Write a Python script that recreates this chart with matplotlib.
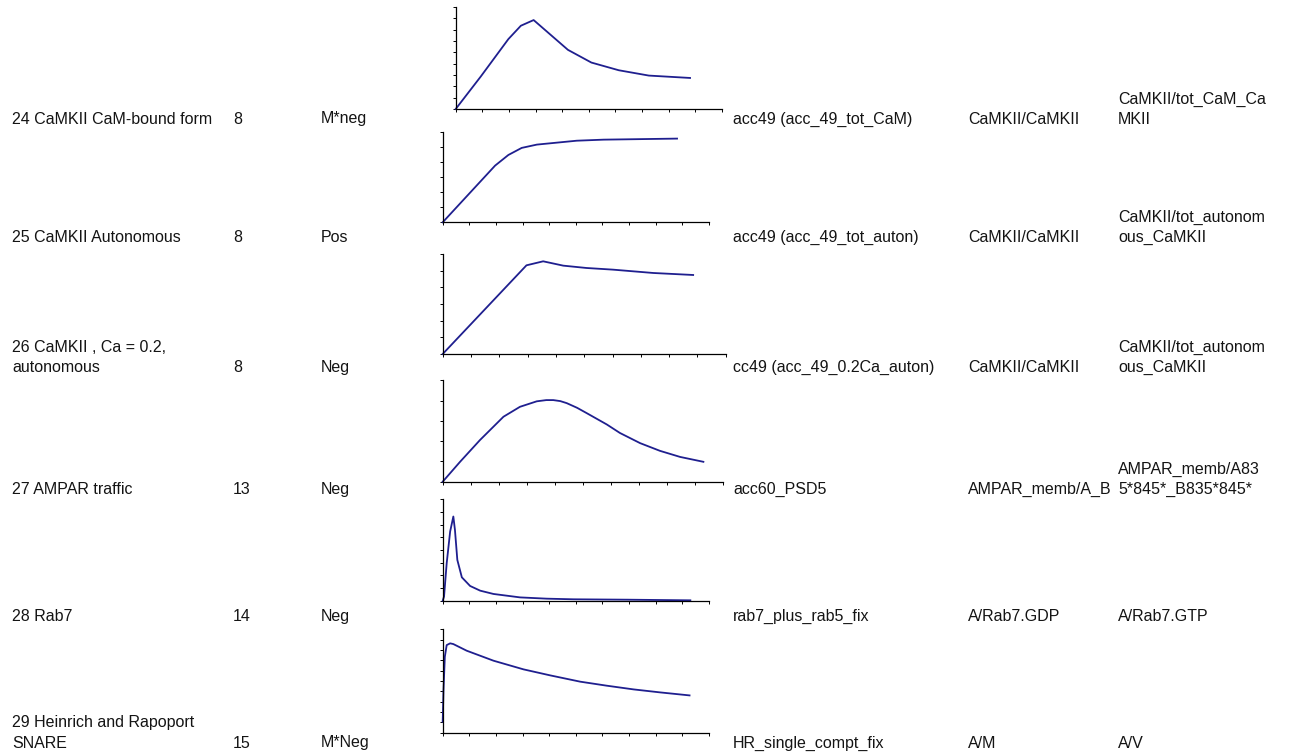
import matplotlib
matplotlib.use('Agg')
import matplotlib.pyplot as plt

W, H = 1293, 754

# table columns
names = ["24 CaMKII CaM-bound form", "25 CaMKII Autonomous", "26 CaMKII , Ca = 0.2,\nautonomous",
         "27 AMPAR traffic", "28 Rab7", "29 Heinrich and Rapoport\nSNARE"]
numbers = ["8", "8", "8", "13", "14", "15"]
signs = ["M*neg", "Pos", "Neg", "Neg", "Neg", "M*Neg"]
models = ["acc49 (acc_49_tot_CaM)", "acc49 (acc_49_tot_auton)", "cc49 (acc_49_0.2Ca_auton)",
          "acc60_PSD5", "rab7_plus_rab5_fix", "HR_single_compt_fix"]
inputs = ["CaMKII/CaMKII", "CaMKII/CaMKII", "CaMKII/CaMKII", "AMPAR_memb/A_B", "A/Rab7.GDP", "A/M"]
outputs = ["CaMKII/tot_CaM_Ca\nMKII", "CaMKII/tot_autonom\nous_CaMKII", "CaMKII/tot_autonom\nous_CaMKII",
           "AMPAR_memb/A83\n5*845*_B835*845*", "A/Rab7.GTP", "A/V"]

# time courses (in tick units of each small plot)
x24 = [0, 0.94, 1.98, 2.45, 2.93, 4.22, 5.10, 6.13, 7.26, 8.81]
y24 = [0, 2.86, 6.17, 7.35, 7.85, 5.22, 4.10, 3.42, 2.95, 2.74]
x25 = [0, 1.97, 2.47, 2.97, 3.54, 5.04, 6.05, 8.81]
y25 = [0, 3.78, 4.49, 4.96, 5.18, 5.44, 5.51, 5.58]
x26 = [0, 2.96, 3.55, 4.26, 5.08, 6.02, 7.44, 8.85]
y26 = [0, 5.32, 5.56, 5.30, 5.16, 5.06, 4.86, 4.74]
x27 = [0, 0.62, 1.33, 2.17, 2.76, 3.36, 3.70, 3.95, 4.20, 4.43, 4.80, 5.14, 5.86, 6.33, 7.05, 7.76, 8.48, 9.31]
y27 = [0, 0.98, 2.05, 3.20, 3.69, 3.96, 4.02, 4.02, 3.97, 3.87, 3.64, 3.38, 2.82, 2.40, 1.90, 1.52, 1.22, 0.98]
x28 = [0, 0.05, 0.15, 0.28, 0.40, 0.46, 0.55, 0.72, 1.03, 1.41, 1.91, 2.91, 3.91, 4.92, 6.93, 9.31]
y28 = [0, 0.32, 2.95, 5.45, 6.63, 5.58, 3.21, 1.84, 1.16, 0.79, 0.53, 0.26, 0.16, 0.11, 0.08, 0.03]
x29 = [0, 0.03, 0.08, 0.15, 0.28, 0.40, 0.90, 1.91, 3.04, 4.04, 5.17, 6.17, 7.18, 8.18, 9.28]
y29 = [1.06, 4.13, 7.35, 8.48, 8.65, 8.58, 7.94, 6.97, 6.13, 5.55, 4.94, 4.55, 4.19, 3.90, 3.61]
series = [(x24, y24), (x25, y25), (x26, y26), (x27, y27), (x28, y28), (x29, y29)]
y_ticks = [9, 6, 6, 5, 8, 10]

# pixel layout: origin x, origin y, x tick step, y tick step
plot_boxes = [(455.7, 109, 26.6, 11.33), (442.7, 222.3, 26.6, 15.0), (442.7, 354, 28.3, 16.67),
              (442.7, 481.7, 28.0, 20.3), (442.7, 600.7, 26.6, 12.7), (442.7, 732.7, 26.6, 10.33)]
row_base = [123.5, 241.5, 372, 494, 621, 747.5]
col_x = [12, 233, 321, 733, 968, 1118]
LINE = 20

fig = plt.figure(figsize=(W / 100, H / 100), dpi=100)
fig.patch.set_facecolor('white')

for (xs, ys), ny, (ox, oy, sx, sy) in zip(series, y_ticks, plot_boxes):
    ax = fig.add_axes([ox / W, 1 - oy / H, 10 * sx / W, ny * sy / H])
    ax.plot(xs, ys, color='#1f1f8f', linewidth=1.3, clip_on=False, solid_joinstyle='round')
    ax.set_xlim(0, 10)
    ax.set_ylim(0, ny)
    ax.set_xticks(range(11))
    ax.set_yticks(range(ny + 1))
    ax.set_xticklabels([])
    ax.set_yticklabels([])
    ax.tick_params(length=2.5, width=0.7, direction='out', colors='black')
    for s in ['top', 'right']:
        ax.spines[s].set_visible(False)
    for s in ['left', 'bottom']:
        ax.spines[s].set_linewidth(0.9)
    ax.patch.set_alpha(0)

cols = [names, numbers, signs, models, inputs, outputs]
for cx, col in zip(col_x, cols):
    for base, txt in zip(row_base, col):
        lines = txt.split("\n")
        for k, ln in enumerate(lines):
            y = base - (len(lines) - 1 - k) * LINE
            fig.text(cx / W, 1 - y / H, ln, ha='left', va='baseline',
                     fontsize=11.5, family='Liberation Sans', color='#141414')

plt.savefig('out.png', dpi=100)
plt.close()
